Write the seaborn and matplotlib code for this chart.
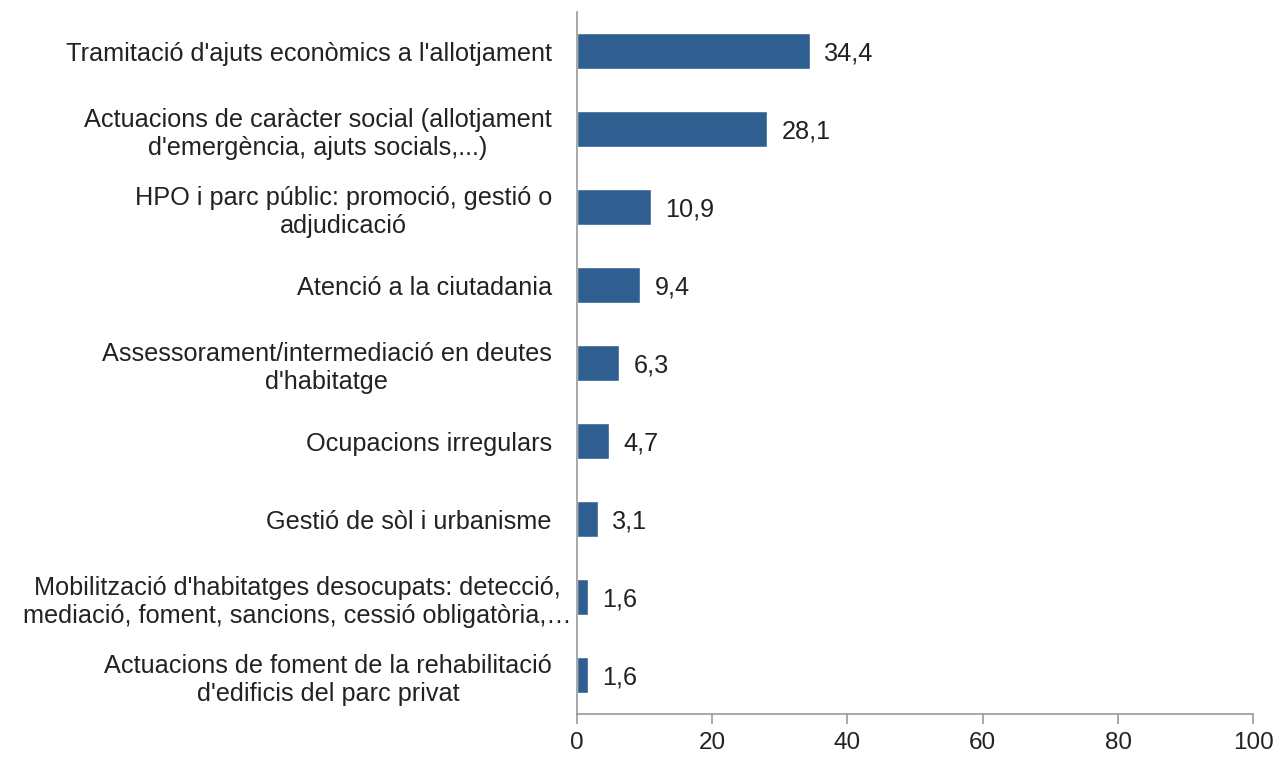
import matplotlib
matplotlib.use("Agg")
import matplotlib.pyplot as plt
import seaborn as sns
import pandas as pd

categories = [
    "Tramitació d'ajuts econòmics a l'allotjament",
    "Actuacions de caràcter social (allotjament\nd'emergència, ajuts socials,...)",
    "HPO i parc públic: promoció, gestió o\nadjudicació",
    "Atenció a la ciutadania",
    "Assessorament/intermediació en deutes\nd'habitatge",
    "Ocupacions irregulars",
    "Gestió de sòl i urbanisme",
    "Mobilització d'habitatges desocupats: detecció,\nmediació, foment, sancions, cessió obligatòria,…",
    "Actuacions de foment de la rehabilitació\nd'edificis del parc privat",
]
values = [34.4, 28.1, 10.9, 9.4, 6.3, 4.7, 3.1, 1.6, 1.6]
value_labels = ["34,4", "28,1", "10,9", "9,4", "6,3", "4,7", "3,1", "1,6", "1,6"]
x_ticks = [0, 20, 40, 60, 80, 100]

df = pd.DataFrame({"categoria": categories, "valor": values})

sns.set_style("white")
plt.rcParams["font.family"] = ["Liberation Sans", "DejaVu Sans"]
fs = 18.2

fig = plt.figure(figsize=(12.79, 7.59), dpi=100)
ax = fig.add_axes([0.451, 0.059, 0.529, 0.925])

sns.barplot(data=df, x="valor", y="categoria", orient="h", color="#2F5F91",
            width=0.46, saturation=1, ax=ax)

for i, (v, lab) in enumerate(zip(values, value_labels)):
    ax.annotate(lab, (v, i), xytext=(10.5, 0), textcoords="offset points",
                va="center_baseline", ha="left", fontsize=fs, color="#222222")

ax.set_xlim(0, 100)
ax.set_ylim(len(values) - 0.5, -0.5)
ax.set_xticks(x_ticks)
ax.set_xticklabels([str(t) for t in x_ticks], fontsize=17.5, color="#222222")
ax.set_xlabel("")
ax.set_ylabel("")

for lbl in ax.get_yticklabels():
    lbl.set_multialignment("center")
    lbl.set_fontsize(fs)
    lbl.set_color("#222222")
    lbl.set_linespacing(1.25)

for side in ["top", "right"]:
    ax.spines[side].set_visible(False)
for side in ["left", "bottom"]:
    ax.spines[side].set_color("#999999")
    ax.spines[side].set_linewidth(1.2)

ax.tick_params(axis="x", bottom=True, direction="out", length=7, width=1.2,
               color="#999999", pad=6)
ax.tick_params(axis="y", left=False, length=0, pad=18)

# the long "Mobilització" label overhangs towards the axis in the original
ax.yaxis.get_major_ticks()[7].set_pad(4)

fig.savefig("out.png", dpi=100, facecolor="white")
